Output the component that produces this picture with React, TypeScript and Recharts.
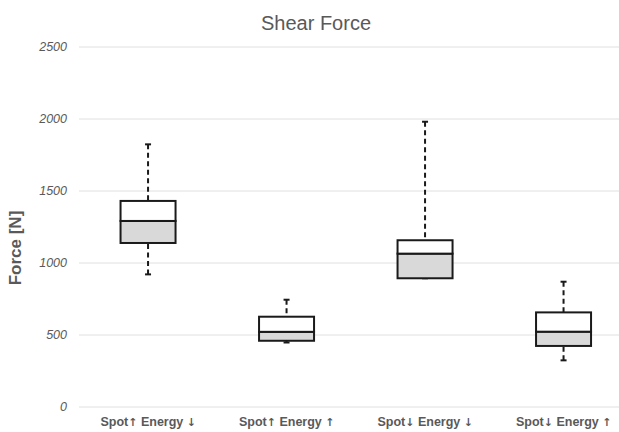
import React from 'react';
import { ComposedChart, Bar, XAxis, YAxis, CartesianGrid } from 'recharts';

const categories = ['Spot↑ Energy ↓', 'Spot↑ Energy ↑', 'Spot↓ Energy ↓', 'Spot↓ Energy ↑'];
const minValues = [921, 448, 894, 324];
const q1Values = [1139, 460, 894, 424];
const medianValues = [1292, 522, 1065, 523];
const q3Values = [1431, 627, 1158, 657];
const maxValues = [1824, 745, 1981, 870];
const yTicks = [0, 500, 1000, 1500, 2000, 2500];

const data = categories.map((name, i) => ({
  name,
  base: minValues[i],
  lowWhisker: q1Values[i] - minValues[i],
  lowerBox: medianValues[i] - q1Values[i],
  upperBox: q3Values[i] - medianValues[i],
  highWhisker: maxValues[i] - q3Values[i],
}));

const INK = '#1a1a1a';
const GREY_TEXT = '#595959';
const FONT = '"Liberation Sans", Arial, sans-serif';

const whisker = (capAt: 'top' | 'bottom') => (props: any) => {
  const { x, y, width, height } = props;
  if (height == null || isNaN(height)) return <g />;
  const cx = x + width / 2;
  const capY = capAt === 'top' ? y : y + height;
  const startY = capAt === 'top' ? y : y + height;
  const endY = capAt === 'top' ? y + height : y;
  return (
    <g>
      <line x1={cx} x2={cx} y1={startY} y2={endY} stroke={INK} strokeWidth={2} strokeDasharray="5 3.5" />
      <line x1={cx - 3} x2={cx + 3} y1={capY} y2={capY} stroke={INK} strokeWidth={2} />
    </g>
  );
};

const boxPart = (fill: string) => (props: any) => {
  const { x, y, width, height } = props;
  return <rect x={x} y={y} width={width} height={height} fill={fill} stroke={INK} strokeWidth={2} />;
};

// arrows in DejaVu so they come out as full-size glyphs
const CategoryTick = (props: any) => {
  const { x, y, payload } = props;
  const parts = String(payload.value).split(/([↑↓])/).filter((s) => s !== '');
  return (
    <text
      x={x}
      y={y + 11}
      textAnchor="middle"
      fill={GREY_TEXT}
      fontSize={12.5}
      fontWeight="bold"
      fontFamily={FONT}
    >
      {parts.map((p, i) =>
        p === '↑' || p === '↓' ? (
          <tspan key={i} fontFamily='"DejaVu Sans", sans-serif' fontWeight="bold" fontSize={11} fill={GREY_TEXT}>
            {p}
          </tspan>
        ) : (
          <tspan key={i}>{p}</tspan>
        )
      )}
    </text>
  );
};

const App: React.FC = () => {
  return (
    <div
      style={{
        position: 'absolute',
        left: 0,
        top: 0,
        width: 619,
        height: 432,
        overflow: 'hidden',
        background: '#fff',
        fontFamily: FONT,
      }}
    >
      <div
        style={{
          position: 'absolute',
          top: 12,
          left: 216,
          width: 200,
          textAlign: 'center',
          fontSize: 20,
          lineHeight: '23px',
          color: GREY_TEXT,
        }}
      >
        Shear Force
      </div>
      <div
        style={{
          position: 'absolute',
          left: 16 - 60,
          top: 248 - 10,
          width: 120,
          height: 20,
          lineHeight: '20px',
          textAlign: 'center',
          transform: 'rotate(-90deg)',
          fontSize: 17,
          fontWeight: 'bold',
          color: GREY_TEXT,
        }}
      >
        Force [N]
      </div>
      <ComposedChart
        width={660}
        height={432}
        data={data}
        margin={{ top: 47, right: 27, bottom: 0, left: 0 }}
        barCategoryGap="30%"
      >
        <CartesianGrid vertical={false} stroke="#e0e0e0" />
        <XAxis
          dataKey="name"
          axisLine={false}
          tickLine={false}
          interval={0}
          height={25}
          tick={<CategoryTick />}
        />
        <YAxis
          type="number"
          domain={[0, 2500]}
          ticks={yTicks}
          axisLine={false}
          tickLine={false}
          width={79}
          tickMargin={6}
          tick={{ fill: GREY_TEXT, fontSize: 12.5, fontStyle: 'italic', fontFamily: FONT }}
        />
        <Bar dataKey="base" stackId="box" fill="transparent" shape={() => <g />} isAnimationActive={false} />
        <Bar dataKey="lowWhisker" stackId="box" shape={whisker('bottom')} isAnimationActive={false} />
        <Bar dataKey="lowerBox" stackId="box" shape={boxPart('#d9d9d9')} isAnimationActive={false} />
        <Bar dataKey="upperBox" stackId="box" shape={boxPart('#ffffff')} isAnimationActive={false} />
        <Bar dataKey="highWhisker" stackId="box" shape={whisker('top')} isAnimationActive={false} />
      </ComposedChart>
    </div>
  );
};

export default App;
